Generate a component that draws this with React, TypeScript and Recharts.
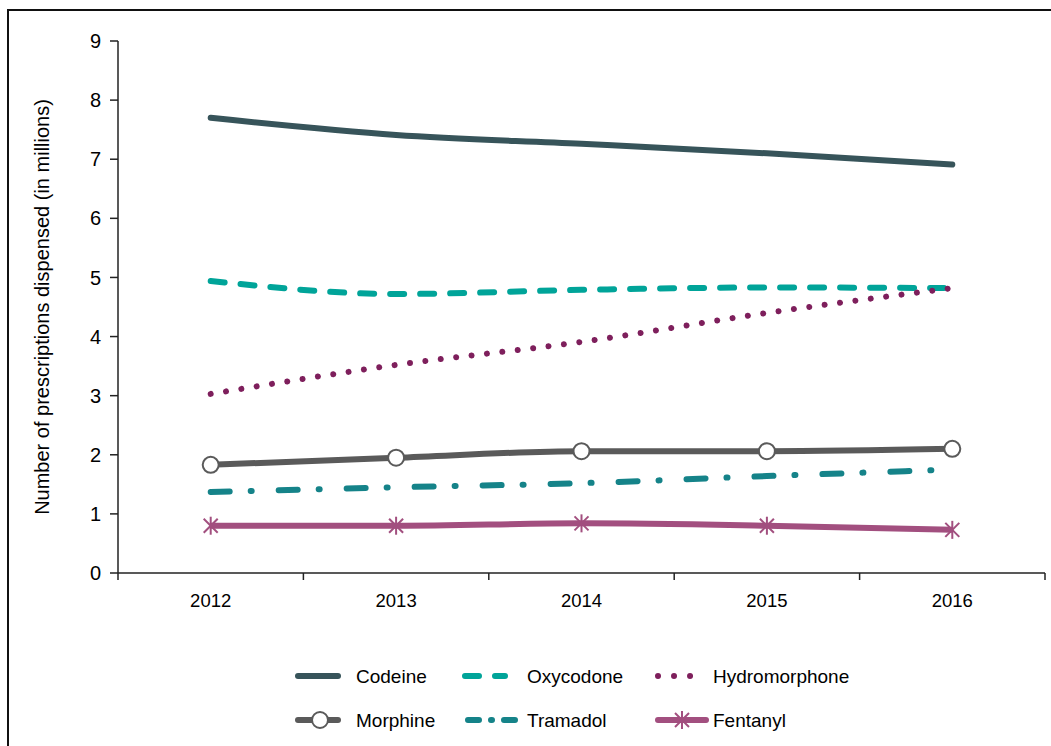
import React from "react";
import { LineChart, Line, XAxis, YAxis, Legend } from "recharts";

const years = [2012, 2013, 2014, 2015, 2016];
const codeine = [7.7, 7.41, 7.26, 7.1, 6.91];
const oxycodone = [4.94, 4.72, 4.79, 4.83, 4.82];
const hydromorphone = [3.03, 3.52, 3.91, 4.4, 4.82];
const morphine = [1.83, 1.95, 2.06, 2.06, 2.1];
const tramadol = [1.37, 1.45, 1.52, 1.64, 1.75];
const fentanyl = [0.8, 0.8, 0.84, 0.8, 0.73];

const yTicks = [0, 1, 2, 3, 4, 5, 6, 7, 8, 9];
const xTicks = [2011.5, 2012, 2012.5, 2013, 2013.5, 2014, 2014.5, 2015, 2015.5, 2016, 2016.5];

const FONT = "'Liberation Sans', Arial, sans-serif";
const AXIS = "#222";

const C = {
  codeine: "#37545a",
  oxycodone: "#00a499",
  hydromorphone: "#7e1f5c",
  morphine: "#5a5a5a",
  tramadol: "#158389",
  fentanyl: "#a24f7f",
};

const data = years.map((y, i) => ({
  year: y,
  codeine: codeine[i],
  oxycodone: oxycodone[i],
  hydromorphone: hydromorphone[i],
  morphine: morphine[i],
  tramadol: tramadol[i],
  fentanyl: fentanyl[i],
}));

const XTick = (props: any) => {
  const { x, y, payload } = props;
  const v = payload.value;
  if (Number.isInteger(v)) {
    return (
      <text x={x} y={y} dy="0.76em" textAnchor="middle" fontSize={18.5} fill="#000" fontFamily={FONT}>
        {v}
      </text>
    );
  }
  const axisY = y - 20;
  return <line x1={x} x2={x} y1={axisY} y2={axisY + 7} stroke={AXIS} strokeWidth={1.5} />;
};

const CircleDot = (props: any) => {
  const { cx, cy } = props;
  if (cx == null || cy == null) return null;
  return <circle cx={cx} cy={cy} r={8} fill="#fff" stroke={C.morphine} strokeWidth={2} />;
};

const Star = ({ cx, cy, color }: { cx: number; cy: number; color: string }) => (
  <g stroke={color} strokeWidth={2}>
    <line x1={cx} x2={cx} y1={cy - 9} y2={cy + 9} />
    <line x1={cx - 7} x2={cx + 7} y1={cy - 7} y2={cy + 7} />
    <line x1={cx - 7} x2={cx + 7} y1={cy + 7} y2={cy - 7} />
  </g>
);

const StarDot = (props: any) => {
  const { cx, cy } = props;
  if (cx == null || cy == null) return null;
  return <Star cx={cx} cy={cy} color={C.fentanyl} />;
};

const LegendBox = () => {
  const t = { fontSize: 19, fill: "#000", fontFamily: FONT, dominantBaseline: "central" as const };
  const r1 = 53;
  const r2 = 97;
  return (
    <svg width={1042} height={113} style={{ display: "block" }}>
      <line x1={289} x2={329} y1={r1} y2={r1} stroke={C.codeine} strokeWidth={6} strokeLinecap="round" />
      <text x={347} y={r1} {...t}>Codeine</text>
      <line x1={456} x2={496} y1={r1} y2={r1} stroke={C.oxycodone} strokeWidth={6} strokeLinecap="round" strokeDasharray="14 16" />
      <text x={518} y={r1} {...t}>Oxycodone</text>
      <line x1={649} x2={682} y1={r1} y2={r1} stroke={C.hydromorphone} strokeWidth={6} strokeLinecap="round" strokeDasharray="0.01 16" />
      <text x={704} y={r1} {...t}>Hydromorphone</text>

      <line x1={289} x2={329} y1={r2} y2={r2} stroke={C.morphine} strokeWidth={6} strokeLinecap="round" />
      <circle cx={311} cy={r2} r={8} fill="#fff" stroke={C.morphine} strokeWidth={2} />
      <text x={347} y={r2} {...t}>Morphine</text>
      <line x1={459} x2={506} y1={r2} y2={r2} stroke={C.tramadol} strokeWidth={6} strokeLinecap="round" strokeDasharray="11 12 1 12" />
      <text x={518} y={r2} {...t}>Tramadol</text>
      <line x1={649} x2={697} y1={r2} y2={r2} stroke={C.fentanyl} strokeWidth={6} strokeLinecap="round" />
      <Star cx={673} cy={r2} color={C.fentanyl} />
      <text x={704} y={r2} {...t}>Fentanyl</text>
    </svg>
  );
};

export default function App() {
  return (
    <div
      style={{
        position: "absolute",
        left: 7,
        top: 9,
        width: 1044,
        height: 737,
        boxSizing: "border-box",
        borderTop: "2px solid #111",
        borderLeft: "2px solid #111",
        background: "#fff",
      }}
    >
      <LineChart width={1042} height={735} data={data} margin={{ top: 30, right: 6, bottom: 10, left: 8 }}>
        <XAxis
          dataKey="year"
          type="number"
          domain={[2011.5, 2016.5]}
          ticks={xTicks}
          interval={0}
          tickLine={false}
          tickSize={7}
          tickMargin={13}
          height={50}
          axisLine={{ stroke: AXIS, strokeWidth: 1.5 }}
          tick={<XTick />}
        />
        <YAxis
          domain={[0, 9]}
          ticks={yTicks}
          interval={0}
          width={101}
          tickSize={8}
          tickMargin={9}
          axisLine={{ stroke: AXIS, strokeWidth: 1.5 }}
          tickLine={{ stroke: AXIS, strokeWidth: 1.5 }}
          tick={{ fontSize: 20, fill: "#000", fontFamily: FONT }}
          label={{
            content: (p: any) => {
              const vb = p.viewBox;
              const cx = vb.x + 25;
              const cy = vb.y + vb.height / 2;
              return (
                <text
                  x={cx}
                  y={cy}
                  transform={`rotate(-90 ${cx} ${cy})`}
                  textAnchor="middle"
                  dominantBaseline="central"
                  fontSize={20}
                  fill="#000"
                  fontFamily={FONT}
                >
                  Number of prescriptions dispensed (in millions)
                </text>
              );
            },
          }}
        />
        <Legend verticalAlign="bottom" width={1042} wrapperStyle={{ left: 0 }} content={<LegendBox />} />
        <Line type="monotone" dataKey="codeine" name="Codeine" stroke={C.codeine} strokeWidth={6} strokeLinecap="round" dot={false} isAnimationActive={false} />
        <Line type="monotone" dataKey="oxycodone" name="Oxycodone" stroke={C.oxycodone} strokeWidth={6} strokeLinecap="round" strokeDasharray="14 16" dot={false} isAnimationActive={false} />
        <Line type="monotone" dataKey="hydromorphone" name="Hydromorphone" stroke={C.hydromorphone} strokeWidth={6} strokeLinecap="round" strokeDasharray="0.01 15.5" dot={false} isAnimationActive={false} />
        <Line type="monotone" dataKey="morphine" name="Morphine" stroke={C.morphine} strokeWidth={6} dot={<CircleDot />} isAnimationActive={false} />
        <Line type="monotone" dataKey="tramadol" name="Tramadol" stroke={C.tramadol} strokeWidth={6} strokeLinecap="round" strokeDasharray="19 21 1 27" dot={false} isAnimationActive={false} />
        <Line type="monotone" dataKey="fentanyl" name="Fentanyl" stroke={C.fentanyl} strokeWidth={6} dot={<StarDot />} isAnimationActive={false} />
      </LineChart>
    </div>
  );
}
